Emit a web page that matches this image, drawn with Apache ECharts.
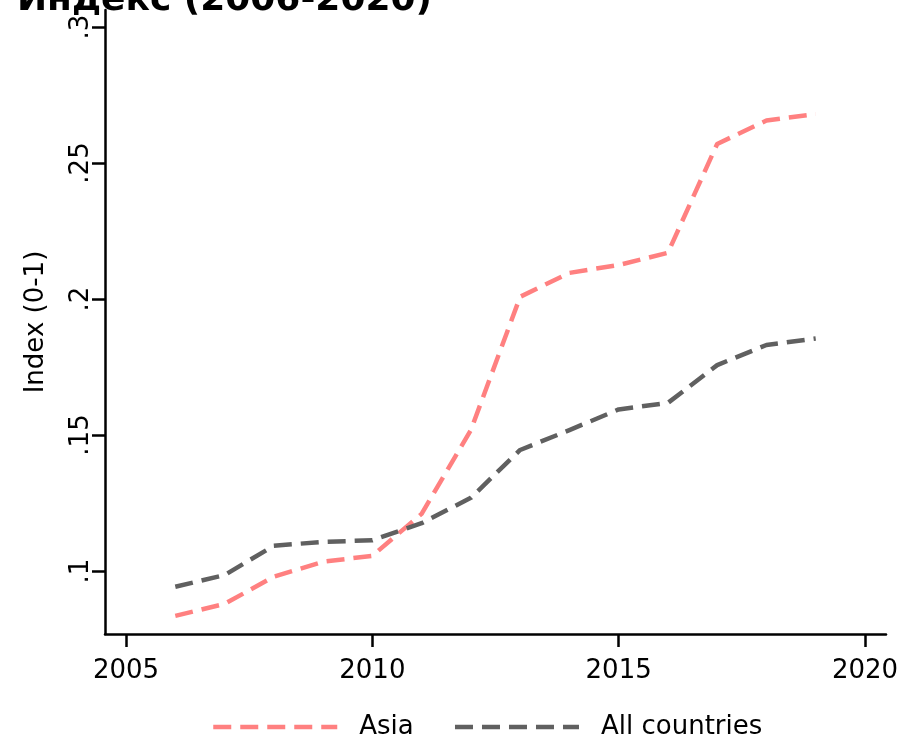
<!DOCTYPE html>
<html>
<head>
<meta charset="utf-8">
<script src="https://cdn.jsdelivr.net/npm/echarts@6/dist/echarts.min.js"></script>
<style>html,body{margin:0;padding:0;background:#fff}#c{width:905px;height:737px}</style>
</head>
<body>
<div id="c"></div>
<script>
const titleText = "Индекс (2006-2020)";
const years = [2006, 2007, 2008, 2009, 2010, 2011, 2012, 2013, 2014, 2015, 2016, 2017, 2018, 2019];
const asia = [0.0835, 0.0879, 0.0979, 0.1034, 0.1056, 0.1210, 0.1518, 0.2008, 0.2096, 0.2125, 0.2170, 0.2570, 0.2656, 0.2680];
const allCountries = [0.0942, 0.0985, 0.1093, 0.1107, 0.1113, 0.1176, 0.1269, 0.1445, 0.1518, 0.1594, 0.1618, 0.1757, 0.1831, 0.1855];
const xTicks = [2005, 2010, 2015, 2020];
const yTicks = [0.1, 0.15, 0.2, 0.25, 0.3];
const seriesNames = ["Asia", "All countries"];
const yAxisName = "Index (0-1)";

const FONT = "DejaVu Sans";
const DASH = [18, 9];
const chart = echarts.init(document.getElementById('c'), null, {renderer: 'canvas'});
const pair = (xs, ys) => xs.map((x, i) => [x, ys[i]]);
const blackLine = {color: '#000', width: 2.5};
chart.setOption({
  animation: false,
  backgroundColor: '#fff',
  graphic: [{
    type: 'text', right: 905 - 432, top: -17,
    style: {text: titleText, font: 'bold 36px "DejaVu Sans"', fill: '#000'}
  }],
  grid: {left: 105, right: 19, top: 10, bottom: 103},
  legend: {
    left: 206, top: 709,
    itemWidth: 124, itemHeight: 20, itemGap: 39,
    itemStyle: {opacity: 0},
    lineStyle: {width: 4.5, type: DASH, cap: 'butt'},
    textStyle: {fontFamily: FONT, fontSize: 26, color: '#000', padding: [0, 0, 0, 17]},
    data: seriesNames
  },
  xAxis: {
    type: 'value', min: 2004.573, max: 2020.427,
    axisLine: {lineStyle: blackLine},
    axisTick: {show: true, inside: false, length: 13, lineStyle: blackLine, customValues: xTicks},
    axisLabel: {fontFamily: FONT, fontSize: 26, color: '#000', margin: 24, customValues: xTicks, formatter: v => String(v)},
    splitLine: {show: false}
  },
  yAxis: {
    type: 'value', min: 0.07684, max: 0.30625,
    name: yAxisName, nameLocation: 'middle', nameRotate: 90, nameGap: 56,
    nameTextStyle: {fontFamily: FONT, fontSize: 26, color: '#000'},
    axisLine: {show: true, lineStyle: blackLine},
    axisTick: {show: true, inside: false, length: 13, lineStyle: blackLine, customValues: yTicks},
    axisLabel: {fontFamily: FONT, fontSize: 26, color: '#000', rotate: 90, margin: 11, customValues: yTicks,
      formatter: v => String(Number(v.toFixed(4))).replace(/^0/, '')},
    splitLine: {show: false}
  },
  series: [
    {name: seriesNames[0], type: 'line', data: pair(years, asia), showSymbol: false, symbol: 'none',
     lineStyle: {color: '#ff8080', width: 4.5, type: DASH, cap: 'butt', join: 'round'}, itemStyle: {color: '#ff8080'}},
    {name: seriesNames[1], type: 'line', data: pair(years, allCountries), showSymbol: false, symbol: 'none',
     lineStyle: {color: '#606060', width: 4.5, type: DASH, cap: 'butt', join: 'round'}, itemStyle: {color: '#606060'}}
  ]
});
</script>
</body>
</html>
